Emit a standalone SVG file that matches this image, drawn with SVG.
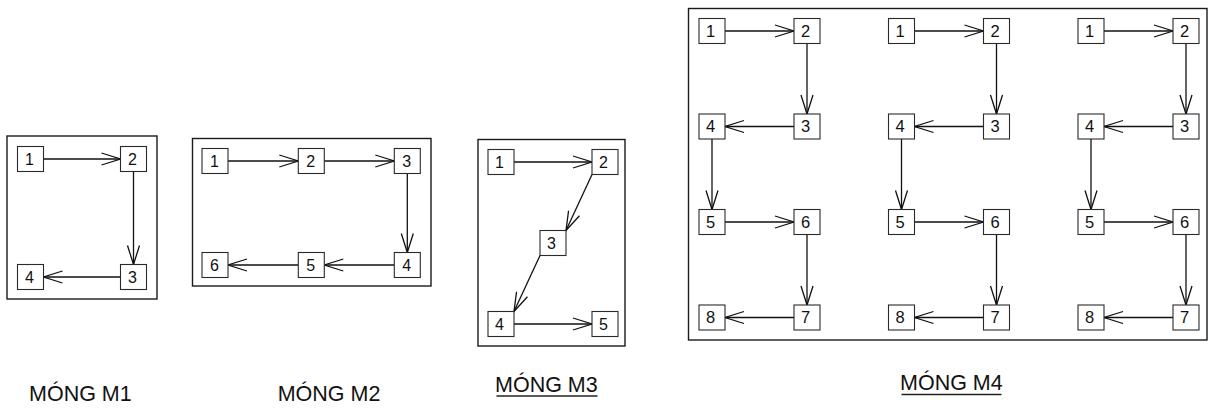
<svg xmlns="http://www.w3.org/2000/svg" width="1213" height="409" viewBox="0 0 1213 409">
<style>
.frame{fill:none;stroke:#1a1a1a;stroke-width:1.4}
.b{fill:#fff;stroke:#2a2a2a;stroke-width:1.1}
.t{font-family:"Liberation Sans",Arial,sans-serif;font-size:16px;fill:#111;text-anchor:middle}
.t4{font-family:"Liberation Sans",Arial,sans-serif;font-size:16.5px;fill:#111;text-anchor:middle}
.c{fill:none;stroke:#111;stroke-width:1.3;marker-end:url(#ah)}
.lbl{font-family:"Liberation Sans",Arial,sans-serif;font-size:21.5px;fill:#111}
.ul{stroke:#222;stroke-width:1.4}
</style>
<defs>
<marker id="ah" markerUnits="userSpaceOnUse" markerWidth="24" markerHeight="16" viewBox="-21 -8 23 16" refX="0" refY="0" orient="auto" overflow="visible">
<path d="M-19,-6 L0,0 L-19,6" fill="none" stroke="#111" stroke-width="1.3"/>
</marker>
</defs>

<!-- Frames -->
<g id="frames">
<rect class="frame" x="7" y="136" width="150" height="163"/>
<rect class="frame" x="192.5" y="138.5" width="238.5" height="147.5"/>
<rect class="frame" x="478" y="139.5" width="147" height="206.5"/>
<rect class="frame" x="688.5" y="8.5" width="518.5" height="331.5"/>
</g>

<!-- Connectors -->
<g id="connectors">
<!-- M1 -->
<path class="c" d="M43.5,159 H120.5"/>
<path class="c" d="M133.5,171.5 V264.5"/>
<path class="c" d="M120.5,277 H43.5"/>
<!-- M2 -->
<path class="c" d="M228,161 H298.3"/>
<path class="c" d="M324.3,161 H394.3"/>
<path class="c" d="M407.3,173.5 V252.5"/>
<path class="c" d="M394.3,265 H324.3"/>
<path class="c" d="M298.3,265 H228"/>
<!-- M3 -->
<path class="c" d="M514,162 H592"/>
<path class="c" d="M592,174.5 L566,230.5"/>
<path class="c" d="M540,255.5 L514,311.5"/>
<path class="c" d="M514,324 H592"/>
<!-- M4 columns -->
<g transform="translate(699,0)">
<path class="c" d="M26,31 H95"/>
<path class="c" d="M108,43.5 V114"/>
<path class="c" d="M95,126.5 H26"/>
<path class="c" d="M13,139 V209.5"/>
<path class="c" d="M26,222 H95"/>
<path class="c" d="M108,234.5 V305"/>
<path class="c" d="M95,317.5 H26"/>
</g>
<g transform="translate(888.5,0)">
<path class="c" d="M26,31 H95"/>
<path class="c" d="M108,43.5 V114"/>
<path class="c" d="M95,126.5 H26"/>
<path class="c" d="M13,139 V209.5"/>
<path class="c" d="M26,222 H95"/>
<path class="c" d="M108,234.5 V305"/>
<path class="c" d="M95,317.5 H26"/>
</g>
<g transform="translate(1078,0)">
<path class="c" d="M26,31 H95"/>
<path class="c" d="M108,43.5 V114"/>
<path class="c" d="M95,126.5 H26"/>
<path class="c" d="M13,139 V209.5"/>
<path class="c" d="M26,222 H95"/>
<path class="c" d="M108,234.5 V305"/>
<path class="c" d="M95,317.5 H26"/>
</g>
</g>

<!-- M1 nodes -->
<g id="m1-n1"><rect class="b" x="17.5" y="146.5" width="26" height="25"/><text class="t" x="29.5" y="164.8">1</text></g>
<g id="m1-n2"><rect class="b" x="120.5" y="146.5" width="26" height="25"/><text class="t" x="132.5" y="164.8">2</text></g>
<g id="m1-n3"><rect class="b" x="120.5" y="264.5" width="26" height="25"/><text class="t" x="132.5" y="282.8">3</text></g>
<g id="m1-n4"><rect class="b" x="17.5" y="264.5" width="26" height="25"/><text class="t" x="29.5" y="282.8">4</text></g>

<!-- M2 nodes -->
<g id="m2-n1"><rect class="b" x="202" y="148.5" width="26" height="25"/><text class="t" x="214.5" y="166.8">1</text></g>
<g id="m2-n2"><rect class="b" x="298.3" y="148.5" width="26" height="25"/><text class="t" x="310.8" y="166.8">2</text></g>
<g id="m2-n3"><rect class="b" x="394.3" y="148.5" width="26" height="25"/><text class="t" x="406.8" y="166.8">3</text></g>
<g id="m2-n4"><rect class="b" x="394.3" y="252.5" width="26" height="25"/><text class="t" x="406.8" y="270.8">4</text></g>
<g id="m2-n5"><rect class="b" x="298.3" y="252.5" width="26" height="25"/><text class="t" x="310.8" y="270.8">5</text></g>
<g id="m2-n6"><rect class="b" x="202" y="252.5" width="26" height="25"/><text class="t" x="214.5" y="270.8">6</text></g>

<!-- M3 nodes -->
<g id="m3-n1"><rect class="b" x="488" y="149.5" width="26" height="25"/><text class="t" x="499.5" y="167.8">1</text></g>
<g id="m3-n2"><rect class="b" x="592" y="149.5" width="26" height="25"/><text class="t" x="603.5" y="167.8">2</text></g>
<g id="m3-n3"><rect class="b" x="540" y="230.5" width="26" height="25"/><text class="t" x="551.5" y="248.8">3</text></g>
<g id="m3-n4"><rect class="b" x="488" y="311.5" width="26" height="25"/><text class="t" x="499.5" y="329.8">4</text></g>
<g id="m3-n5"><rect class="b" x="592" y="311.5" width="26" height="25"/><text class="t" x="603.5" y="329.8">5</text></g>

<!-- M4 nodes, column A -->
<g transform="translate(699,0)">
<g id="m4a-n1"><rect class="b" x="0" y="18.5" width="26" height="25"/><text class="t4" x="11.5" y="36.5">1</text></g>
<g id="m4a-n2"><rect class="b" x="95" y="18.5" width="26" height="25"/><text class="t4" x="106.5" y="36.5">2</text></g>
<g id="m4a-n3"><rect class="b" x="95" y="114" width="26" height="25"/><text class="t4" x="106.5" y="132">3</text></g>
<g id="m4a-n4"><rect class="b" x="0" y="114" width="26" height="25"/><text class="t4" x="11.5" y="132">4</text></g>
<g id="m4a-n5"><rect class="b" x="0" y="209.5" width="26" height="25"/><text class="t4" x="11.5" y="227.5">5</text></g>
<g id="m4a-n6"><rect class="b" x="95" y="209.5" width="26" height="25"/><text class="t4" x="106.5" y="227.5">6</text></g>
<g id="m4a-n7"><rect class="b" x="95" y="305" width="26" height="25"/><text class="t4" x="106.5" y="323">7</text></g>
<g id="m4a-n8"><rect class="b" x="0" y="305" width="26" height="25"/><text class="t4" x="11.5" y="323">8</text></g>
</g>
<!-- M4 nodes, column B -->
<g transform="translate(888.5,0)">
<g id="m4b-n1"><rect class="b" x="0" y="18.5" width="26" height="25"/><text class="t4" x="11.5" y="36.5">1</text></g>
<g id="m4b-n2"><rect class="b" x="95" y="18.5" width="26" height="25"/><text class="t4" x="106.5" y="36.5">2</text></g>
<g id="m4b-n3"><rect class="b" x="95" y="114" width="26" height="25"/><text class="t4" x="106.5" y="132">3</text></g>
<g id="m4b-n4"><rect class="b" x="0" y="114" width="26" height="25"/><text class="t4" x="11.5" y="132">4</text></g>
<g id="m4b-n5"><rect class="b" x="0" y="209.5" width="26" height="25"/><text class="t4" x="11.5" y="227.5">5</text></g>
<g id="m4b-n6"><rect class="b" x="95" y="209.5" width="26" height="25"/><text class="t4" x="106.5" y="227.5">6</text></g>
<g id="m4b-n7"><rect class="b" x="95" y="305" width="26" height="25"/><text class="t4" x="106.5" y="323">7</text></g>
<g id="m4b-n8"><rect class="b" x="0" y="305" width="26" height="25"/><text class="t4" x="11.5" y="323">8</text></g>
</g>
<!-- M4 nodes, column C -->
<g transform="translate(1078,0)">
<g id="m4c-n1"><rect class="b" x="0" y="18.5" width="26" height="25"/><text class="t4" x="11.5" y="36.5">1</text></g>
<g id="m4c-n2"><rect class="b" x="95" y="18.5" width="26" height="25"/><text class="t4" x="106.5" y="36.5">2</text></g>
<g id="m4c-n3"><rect class="b" x="95" y="114" width="26" height="25"/><text class="t4" x="106.5" y="132">3</text></g>
<g id="m4c-n4"><rect class="b" x="0" y="114" width="26" height="25"/><text class="t4" x="11.5" y="132">4</text></g>
<g id="m4c-n5"><rect class="b" x="0" y="209.5" width="26" height="25"/><text class="t4" x="11.5" y="227.5">5</text></g>
<g id="m4c-n6"><rect class="b" x="95" y="209.5" width="26" height="25"/><text class="t4" x="106.5" y="227.5">6</text></g>
<g id="m4c-n7"><rect class="b" x="95" y="305" width="26" height="25"/><text class="t4" x="106.5" y="323">7</text></g>
<g id="m4c-n8"><rect class="b" x="0" y="305" width="26" height="25"/><text class="t4" x="11.5" y="323">8</text></g>
</g>

<!-- Labels -->
<g id="labels">
<text class="lbl" x="29" y="400.7">MÓNG M1</text>
<text class="lbl" x="277.7" y="400.7">MÓNG M2</text>
<text class="lbl" x="495" y="391.7">MÓNG M3</text>
<line class="ul" x1="496.5" y1="396" x2="597.5" y2="396"/>
<text class="lbl" x="900" y="390">MÓNG M4</text>
<line class="ul" x1="901.5" y1="394.5" x2="1001.5" y2="394.5"/>
</g>
</svg>
